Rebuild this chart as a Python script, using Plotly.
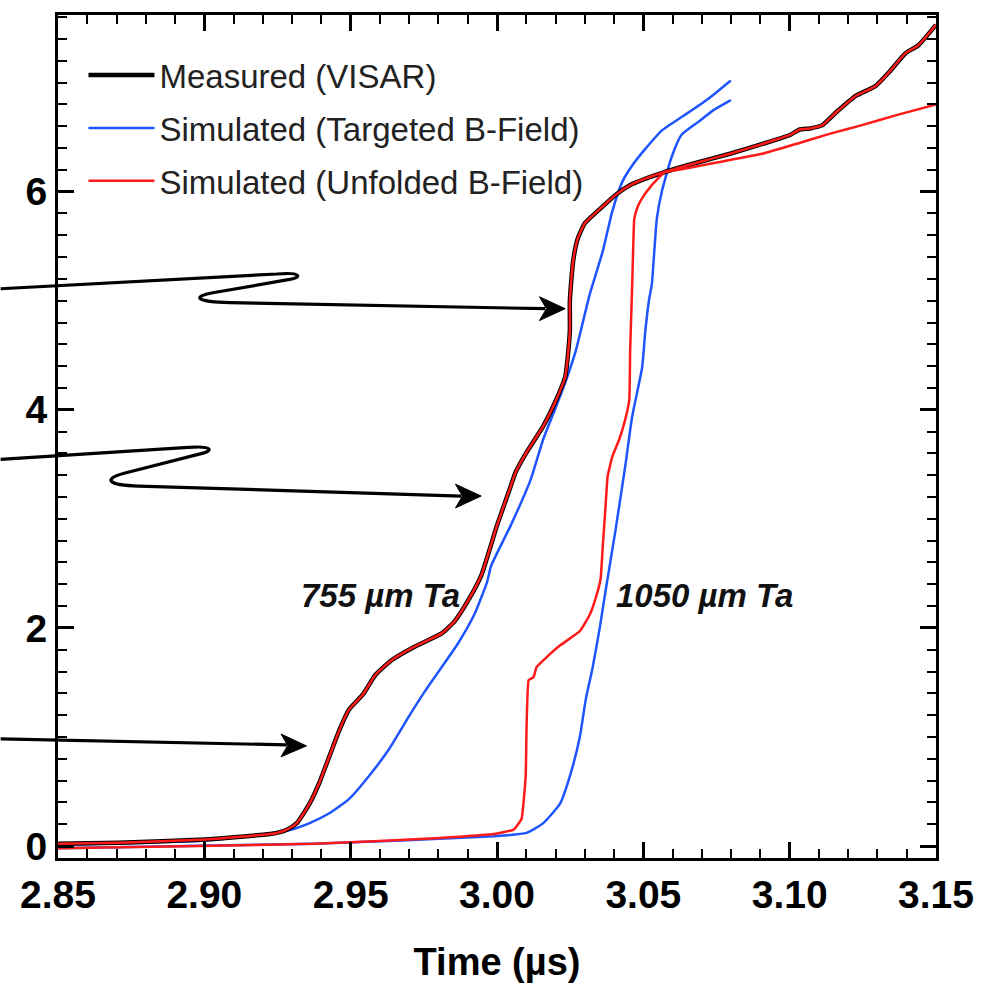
import plotly.graph_objects as go

# ---------------- data (time in µs, velocity) ----------------
meas_t = [2.8500, 2.8709, 2.9002, 2.9147, 2.9225, 2.9248, 2.9282, 2.9316, 2.9360, 2.9393,
          2.9427, 2.9461, 2.9494, 2.9542, 2.9585, 2.9643, 2.9720, 2.9811, 2.9855, 2.9899,
          2.9946, 3.0000, 3.0047, 3.0064, 3.0101, 3.0158, 3.0202, 3.0233, 3.0243, 3.0249,
          3.0249, 3.0260, 3.0276, 3.0300, 3.0351, 3.0405, 3.0462, 3.0573, 3.0688, 3.0799,
          3.0910, 3.1001, 3.1035, 3.1069, 3.1112, 3.1160, 3.1227, 3.1294, 3.1338, 3.1396,
          3.1439, 3.1500]
meas_v = [0.02, 0.03, 0.06, 0.09, 0.11, 0.12, 0.15, 0.21, 0.39, 0.58,
          0.82, 1.06, 1.25, 1.39, 1.57, 1.71, 1.83, 1.95, 2.06, 2.24,
          2.48, 2.94, 3.30, 3.43, 3.61, 3.85, 4.09, 4.30, 4.52, 4.73,
          5.00, 5.36, 5.57, 5.71, 5.84, 5.97, 6.07, 6.18, 6.27, 6.35,
          6.44, 6.52, 6.57, 6.58, 6.61, 6.73, 6.88, 6.97, 7.09, 7.27,
          7.34, 7.53]

# unfolded B-field simulation, 755 µm Ta (overlays the measurement)
unf755_t = list(meas_t)
unf755_v = list(meas_v)

# targeted B-field simulation, 755 µm Ta
tgt755_t = [2.8500, 2.9002, 2.9282, 2.9360, 2.9427, 2.9494, 2.9562, 2.9629, 2.9697, 2.9754,
            2.9811, 2.9865, 2.9922, 2.9966, 2.9980, 3.0047, 3.0115, 3.0158, 3.0202, 3.0236,
            3.0270, 3.0317, 3.0361, 3.0394, 3.0428, 3.0462, 3.0506, 3.0563, 3.0640, 3.0721,
            3.0799]
tgt755_v = [0.01, 0.05, 0.14, 0.21, 0.30, 0.43, 0.64, 0.88, 1.18, 1.42,
            1.64, 1.85, 2.12, 2.42, 2.57, 2.94, 3.36, 3.73, 4.03, 4.27,
            4.55, 5.06, 5.45, 5.82, 6.09, 6.24, 6.39, 6.56, 6.70, 6.85,
            7.02]

# unfolded B-field simulation, 1050 µm Ta
unf1050_t = [2.8500, 2.8979, 2.9373, 2.9788, 2.9990, 3.0057, 3.0084, 3.0098, 3.0101, 3.0108,
             3.0125, 3.0135, 3.0169, 3.0216, 3.0283, 3.0317, 3.0337, 3.0354, 3.0361, 3.0371,
             3.0378, 3.0394, 3.0418, 3.0438, 3.0452, 3.0455, 3.0462, 3.0469, 3.0479, 3.0496,
             3.0529, 3.0573, 3.0640, 3.0755, 3.0910, 3.1025, 3.1136, 3.1247, 3.1362, 3.1500]
unf1050_v = [-0.02, 0.00, 0.02, 0.07, 0.11, 0.15, 0.25, 0.64, 1.09, 1.52,
             1.55, 1.64, 1.73, 1.84, 1.97, 2.12, 2.27, 2.45, 2.73, 3.12,
             3.39, 3.57, 3.73, 3.91, 4.09, 4.55, 5.15, 5.75, 5.85, 5.94,
             6.06, 6.18, 6.21, 6.27, 6.35, 6.44, 6.53, 6.61, 6.70, 6.80]

# targeted B-field simulation, 1050 µm Ta
tgt1050_t = [2.8500, 2.9373, 2.9990, 3.0101, 3.0158, 3.0216, 3.0249, 3.0283, 3.0303, 3.0327,
             3.0351, 3.0371, 3.0404, 3.0438, 3.0462, 3.0496, 3.0506, 3.0519, 3.0529, 3.0546,
             3.0563, 3.0597, 3.0630, 3.0688, 3.0741, 3.0799]
tgt1050_v = [-0.02, 0.02, 0.09, 0.12, 0.21, 0.39, 0.64, 1.00, 1.34, 1.64,
             2.00, 2.34, 2.88, 3.48, 3.94, 4.39, 4.70, 5.00, 5.15, 5.75,
             6.00, 6.32, 6.52, 6.64, 6.75, 6.84]

x_ticks = [2.85, 2.90, 2.95, 3.00, 3.05, 3.10, 3.15]
y_ticks = [0, 2, 4, 6]
legend_names = ["Measured (VISAR)", "Simulated (Targeted B-Field)", "Simulated (Unfolded B-Field)"]
labels = ["755 µm Ta", "1050 µm Ta"]
label_pos = [(2.9602, 2.30), (3.0710, 2.30)]

X_RANGE = [2.85, 3.15]
Y_RANGE = [-0.11, 7.62]

BLUE = "#1f55ff"
RED = "#ff1a1a"

# arrow call-outs (data units, may extend left of the axis)
arrow_paths = [
    [("M", (2.8304, 5.11)), ("L", (2.9248, 5.245)),
     ("C", (2.9336, 5.264), (2.9336, 5.209), (2.9282, 5.191)), ("L", (2.9029, 5.073)),
     ("C", (2.8955, 5.036), (2.8972, 4.991), (2.9087, 4.982)), ("L", (3.0165, 4.927))],
    [("M", (2.8304, 3.545)), ("L", (2.8945, 3.655)),
     ("C", (2.9033, 3.673), (2.9033, 3.618), (2.8979, 3.591)), ("L", (2.8726, 3.418)),
     ("C", (2.8652, 3.364), (2.8669, 3.309), (2.8776, 3.300)), ("L", (2.9879, 3.209))],
    [("M", (2.8304, 0.982)), ("L", (2.9282, 0.927))],
]
arrow_heads = [
    [(3.0233, 4.927), (3.0145, 5.036), (3.0169, 4.927), (3.0145, 4.818)],
    [(2.9946, 3.209), (2.9858, 3.318), (2.9882, 3.209), (2.9858, 3.100)],
    [(2.9349, 0.918), (2.9262, 1.027), (2.9285, 0.922), (2.9262, 0.818)],
]


def to_paper(p):
    t, v = p
    return ((t - X_RANGE[0]) / (X_RANGE[1] - X_RANGE[0]),
            (v - Y_RANGE[0]) / (Y_RANGE[1] - Y_RANGE[0]))


def path_string(cmds):
    parts = []
    for c in cmds:
        op = c[0]
        pts = " ".join("%.5f,%.5f" % to_paper(p) for p in c[1:])
        parts.append(op + " " + pts)
    return " ".join(parts)


fig = go.Figure()

SM = 0.5
fig.add_trace(go.Scatter(x=tgt755_t, y=tgt755_v, mode="lines", name=legend_names[1],
                         line=dict(color=BLUE, width=2.5, shape="spline", smoothing=SM),
                         legendrank=2, legendgroup="b"))
fig.add_trace(go.Scatter(x=tgt1050_t, y=tgt1050_v, mode="lines", showlegend=False,
                         line=dict(color=BLUE, width=2.5, shape="spline", smoothing=SM)))
fig.add_trace(go.Scatter(x=meas_t, y=meas_v, mode="lines", name=legend_names[0],
                         line=dict(color="black", width=4.5, shape="spline", smoothing=SM),
                         legendrank=1, legendgroup="a"))
fig.add_trace(go.Scatter(x=unf755_t, y=unf755_v, mode="lines", name=legend_names[2],
                         line=dict(color=RED, width=2.5, shape="spline", smoothing=SM),
                         legendrank=3, legendgroup="c"))
fig.add_trace(go.Scatter(x=unf1050_t, y=unf1050_v, mode="lines", showlegend=False,
                         line=dict(color=RED, width=2.5, shape="spline", smoothing=0.3)))

shapes = []
for cmds in arrow_paths:
    shapes.append(dict(type="path", xref="paper", yref="paper", path=path_string(cmds),
                       line=dict(color="black", width=3.2), layer="above"))
for head in arrow_heads:
    cmds = [("M", head[0])] + [("L", p) for p in head[1:]]
    shapes.append(dict(type="path", xref="paper", yref="paper",
                       path=path_string(cmds) + " Z",
                       line=dict(color="black", width=1), fillcolor="black", layer="above"))

annotations = []
for txt, (tx, ty) in zip(labels, label_pos):
    annotations.append(dict(x=tx, y=ty, xref="x", yref="y", text="<i><b>%s</b></i>" % txt,
                            showarrow=False, font=dict(family="Liberation Sans", size=33,
                                                        color="#111111")))

tick_font = dict(family="Liberation Sans", size=39, color="black", weight="bold")

fig.update_layout(
    width=986, height=988,
    margin=dict(l=58, r=38, t=12, b=126),
    paper_bgcolor="white", plot_bgcolor="white",
    showlegend=True,
    legend=dict(x=0.029, y=0.962, xanchor="left", yanchor="top",
                bgcolor="rgba(0,0,0,0)",
                font=dict(family="Liberation Sans", size=33, color="#222222"),
                itemwidth=66, tracegroupgap=7, traceorder="grouped"),
    shapes=shapes,
    annotations=annotations,
    xaxis=dict(range=X_RANGE, tickvals=x_ticks, tickformat=".2f", ticks="inside",
               ticklen=16, tickwidth=2.5, tickcolor="black",
               minor=dict(dtick=0.01, ticks="inside", ticklen=9, tickwidth=2, tickcolor="black"),
               showline=True, linecolor="black", linewidth=3, mirror="allticks",
               showgrid=False, zeroline=False, tickfont=tick_font,
               title=dict(text="<b>Time (µs)</b>", font=dict(family="Liberation Sans", size=38,
                                                             color="black"), standoff=34)),
    yaxis=dict(range=Y_RANGE, tickvals=y_ticks, ticks="inside",
               ticklen=16, tickwidth=2.5, tickcolor="black",
               minor=dict(dtick=0.2, tick0=0, ticks="inside", ticklen=9, tickwidth=2, tickcolor="black"),
               showline=True, linecolor="black", linewidth=3, mirror="allticks",
               showgrid=False, zeroline=False, tickfont=tick_font),
)

fig.write_html("out.html")
